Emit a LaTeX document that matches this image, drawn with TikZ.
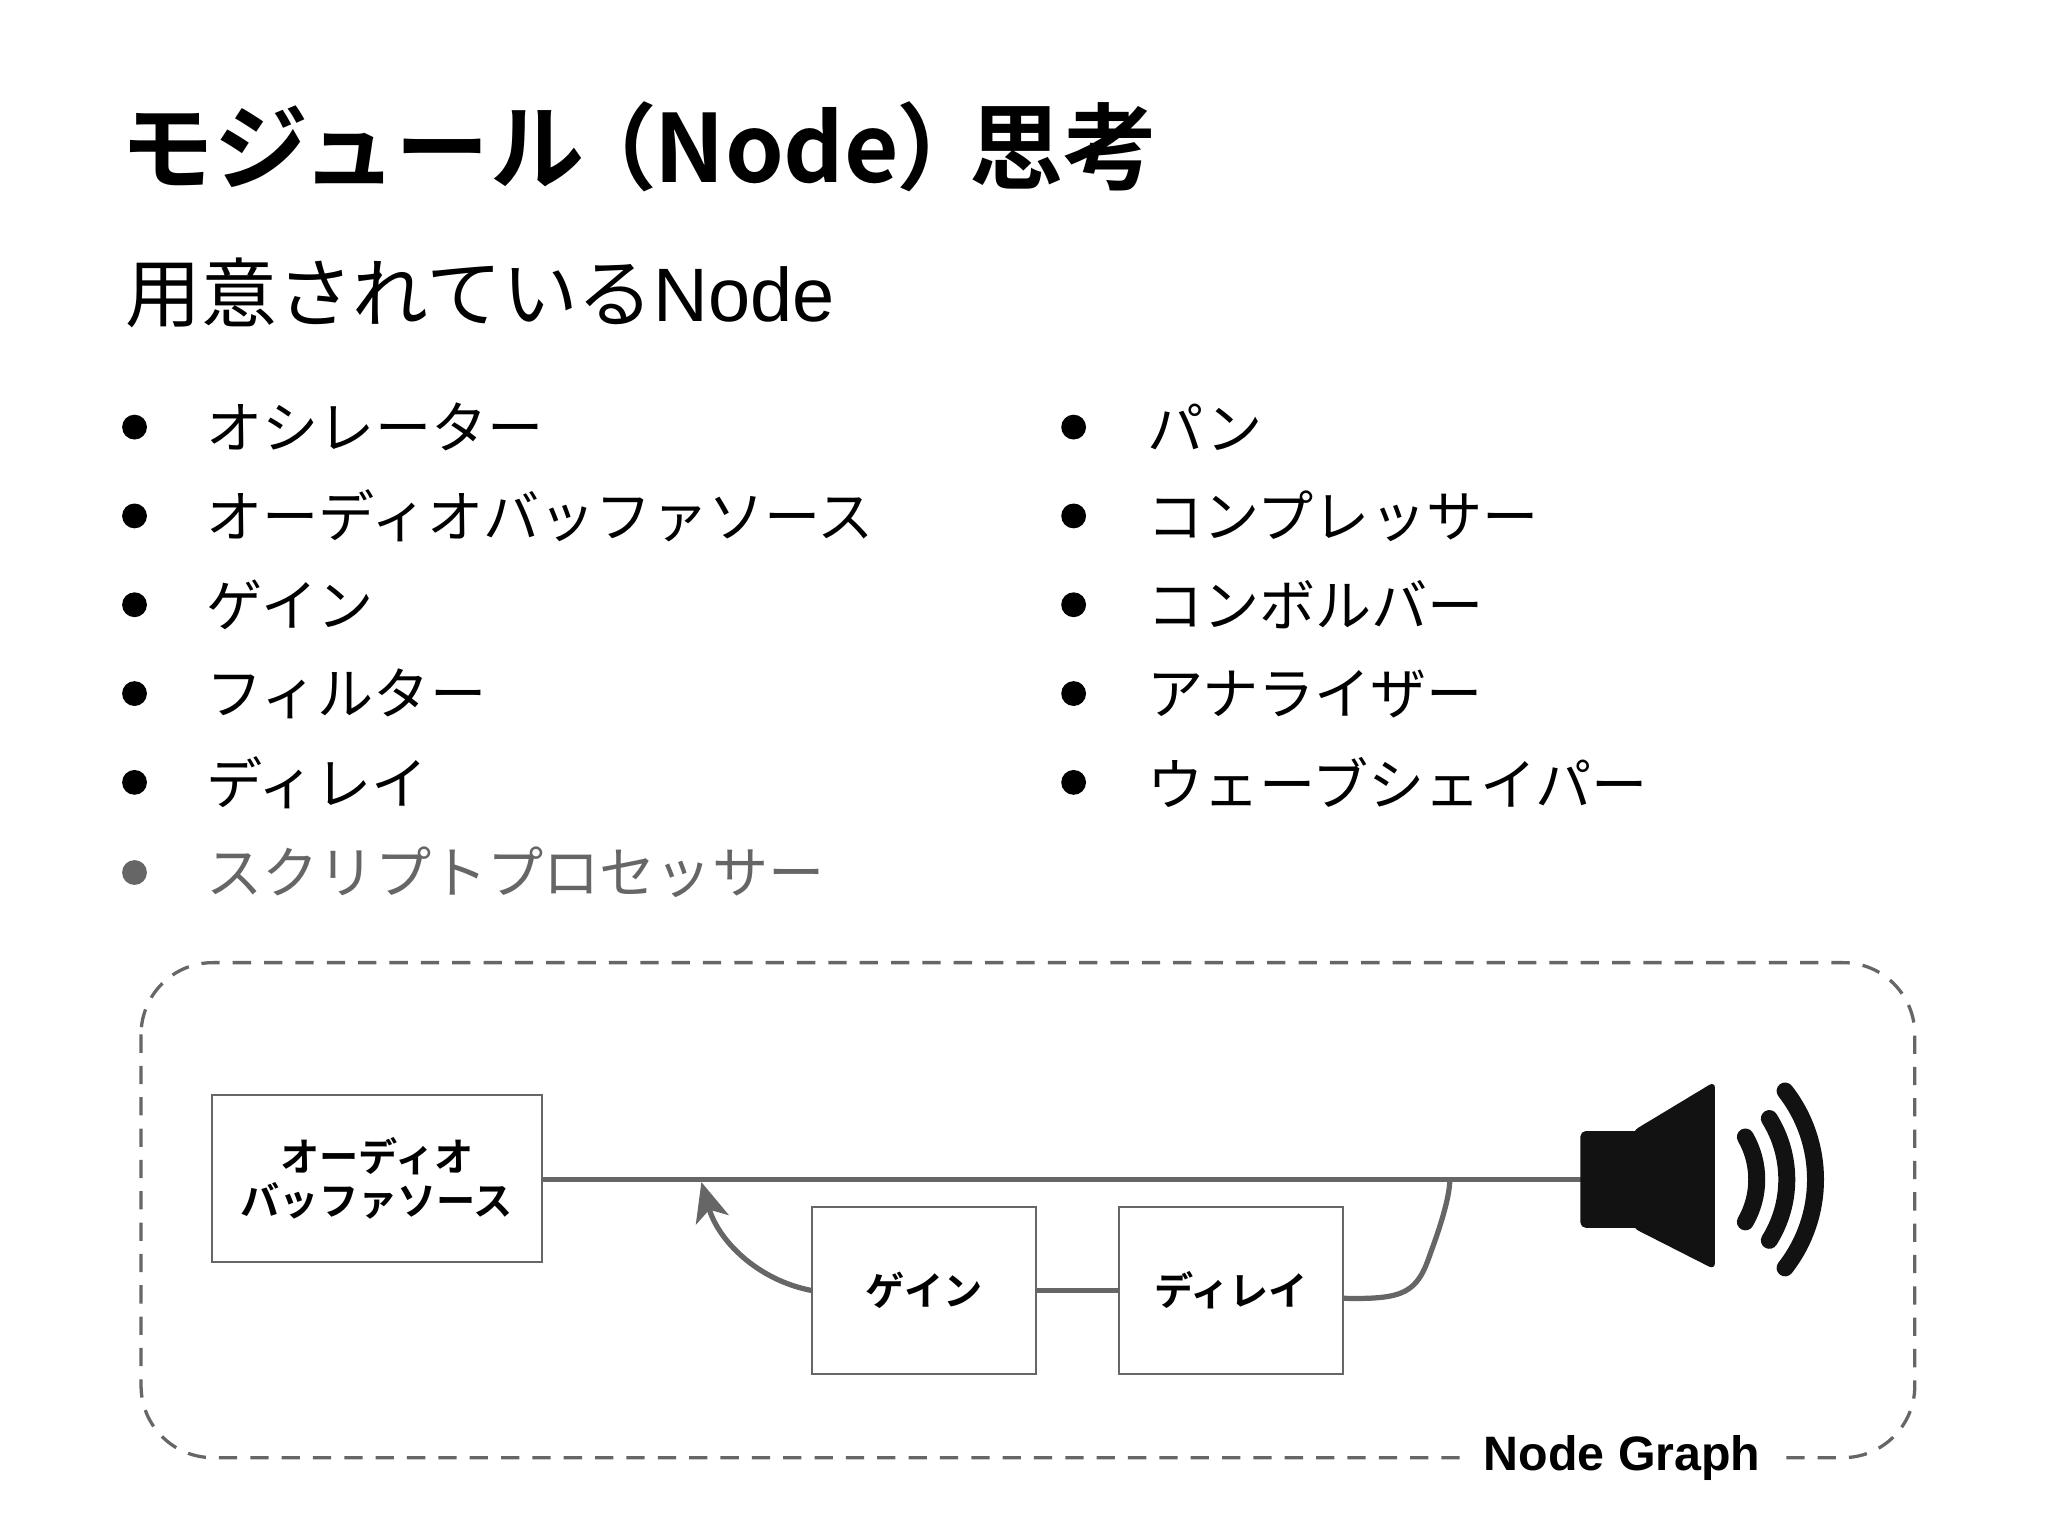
\documentclass[tikz,border=0pt]{standalone}
\usepackage{fontspec}
\setmainfont{Noto Sans CJK JP}
\newfontfamily\jpb{Noto Sans CJK JP Bold}
\newfontfamily\arb{Liberation Sans Bold}
\newfontfamily\ar{Liberation Sans}
\usetikzlibrary{arrows.meta}
\definecolor{gl}{HTML}{666666}
\tikzset{
  itm/.style={anchor=west,font=\fontsize{43}{43}\selectfont,inner sep=0},
  bul/.style={circle,fill=black,minimum size=19pt,inner sep=0},
  gbox/.style={draw=gl,line width=1.5pt,fill=white,font=\jpb\fontsize{30}{34}\selectfont,align=center},
  wire/.style={draw=gl,line width=4pt},
  wave/.style={line width=13pt,line cap=round,draw=black!93}
}
\begin{document}
\begin{tikzpicture}[x=1pt,y=-1pt]
\useasboundingbox (0,0) rectangle (1568,1176);
\node[anchor=base west,inner sep=0,font=\jpb\fontsize{72}{72}\selectfont] (title) at (92,140) {モジュール\kern-16pt（\kern-2pt Node\kern-2pt）\kern-16pt思考};
\node[anchor=base west,inner sep=0,font=\fontsize{58}{58}\selectfont] (sub) at (96,246) {用意されている\ar Node};
\foreach \t [count=\i] in {オシレーター,オーディオバッファソース,ゲイン,フィルター,ディレイ}{
  \node[bul] (lb\i) at (103,{327+68*(\i-1)}) {};
  \node[itm] (lt\i) at (158,{327+68*(\i-1)}) {\t};
}
\node[bul,fill=gl] (lb6) at (103,668) {};
\node[itm,text=gl] (lt6) at (158,668) {スクリプトプロセッサー};
\foreach \t [count=\i] in {パン,コンプレッサー,コンボルバー,アナライザー,ウェーブシェイパー}{
  \node[bul] (rb\i) at (822,{327+68*(\i-1)}) {};
  \node[itm] (rt\i) at (878,{327+68*(\i-1)}) {\t};
}
\draw[gl,line width=2.5pt,dash pattern=on 14pt off 10pt,rounded corners=55pt] (108,737) rectangle (1466,1116);
\node[fill=white,inner xsep=18pt,font=\arb\fontsize{37}{37}\selectfont] (ng) at (1242,1116) {Node Graph};
\node[gbox,minimum width=253pt,minimum height=128pt] (abs) at (288.5,902) {オーディオ\\バッファソース};
\node[gbox,minimum width=171pt,minimum height=128pt] (gain) at (707.5,988) {ゲイン};
\node[gbox,minimum width=171pt,minimum height=128pt] (dly) at (942.5,988) {ディレイ};
\coordinate (spk) at (1212,903);
\coordinate (tip) at (537,905);
\coordinate (jn) at (1110,903);
\draw[wire] (abs.east |- spk) -- (spk);
\draw[wire] (gain.east) -- (dly.west);
\draw[wire,-{Stealth[length=30pt,width=26pt,inset=8pt]}] (gain.west) .. controls (580,980) and (550,950) .. (tip);
\draw[wire] (dly.east) ++(0,6) .. controls (1075,995) and (1085,990) .. (1095,960) .. controls (1108,925) and (1110,910) .. (jn);
% speaker
\fill[black!93,rounded corners=4pt] (1210,866) rectangle (1262,940);
\fill[black!93,rounded corners=5pt] (1250,866) -- (1313,828) -- (1313,972) -- (1250,940) -- cycle;
\coordinate (c) at (1280,903);
\draw[wave] ([shift={(-30:65)}]c) arc[start angle=-30,end angle=30,radius=65];
\draw[wave] ([shift={(-32:88)}]c) arc[start angle=-32,end angle=32,radius=88];
\draw[wave] ([shift={(-38:110)}]c) arc[start angle=-38,end angle=38,radius=110];
\end{tikzpicture}
\end{document}
